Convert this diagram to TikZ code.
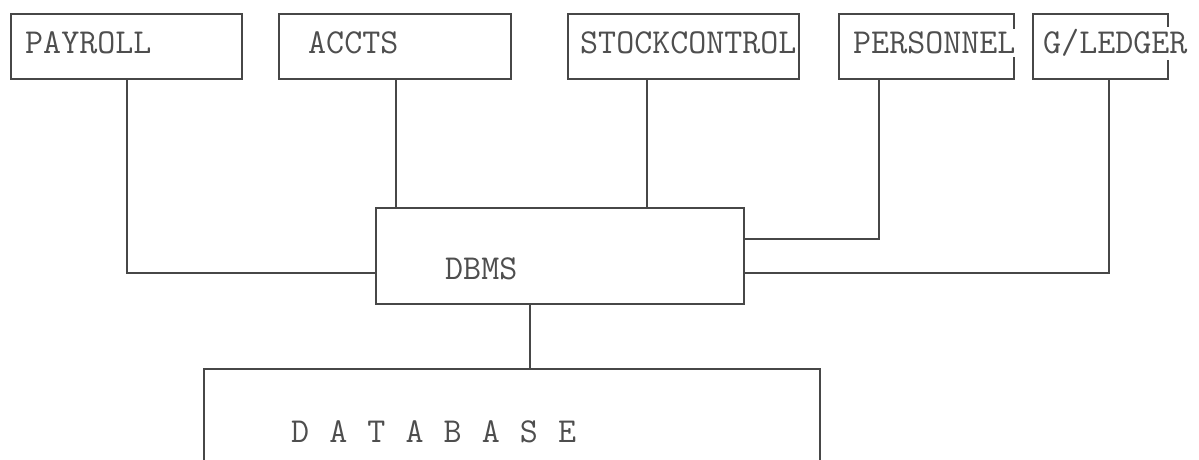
\documentclass[tikz,border=0pt]{standalone}
\usepackage{fontspec}
\usetikzlibrary{positioning}
\definecolor{ink}{HTML}{474747}
\definecolor{txt}{HTML}{4E4E4E}
\tikzset{
  box/.style={draw=ink, line width=2pt, rectangle, inner sep=0pt, anchor=north west},
  lbl/.style={anchor=base west, inner xsep=0pt, inner ysep=3pt, fill=white, text=txt,
              font=\ttfamily\fontsize{35pt}{40pt}\selectfont},
  conn/.style={draw=ink, line width=2pt}
}
\begin{document}
\begin{tikzpicture}[x=1pt,y=-1pt]
\useasboundingbox (0,0) rectangle (1199,460);
\clip (0,0) rectangle (1199,460);
\fill[white] (0,0) rectangle (1199,460);
% top boxes
\node[box, minimum width=231pt, minimum height=65pt] (pay) at (10,13) {};
\node[box, minimum width=232pt, minimum height=65pt] (acc) at (278,13) {};
\node[box, minimum width=231pt, minimum height=65pt] (stk) at (567,13) {};
\node[box, minimum width=175pt, minimum height=65pt] (per) at (838,13) {};
\node[box, minimum width=135pt, minimum height=65pt] (gl)  at (1032,13) {};
% DBMS and database
\node[box, minimum width=368pt, minimum height=96pt] (dbms) at (375,207) {};
\node[box, minimum width=616pt, minimum height=140pt] (db) at (203,368) {};
% labels
\node[lbl] (tpay) at (25,54) {PAYROLL};
\node[lbl] (tacc) at (308,54) {ACCTS};
\node[lbl] (tstk) at (580,54) {STOCKCONTROL};
\node[lbl] (tper) at (853,54) {PERSONNEL};
\node[lbl] (tgl)  at (1043,54) {G/LEDGER};
\node[lbl] (tdbms) at (445,279) {DBMS};
\node[lbl] (tdb) at (291,442) {D\hspace{20.1pt}A\hspace{20.1pt}T\hspace{20.1pt}A\hspace{20.1pt}B\hspace{20.1pt}A\hspace{20.1pt}S\hspace{20.1pt}E};
% connectors
\draw[conn] ([xshift=117pt]pay.south west) |- ([yshift=32pt]dbms.south west);
\draw[conn] ([xshift=118pt]acc.south west) coordinate (a1) -- (a1 |- dbms.north);
\draw[conn] ([xshift=80pt]stk.south west) coordinate (s1) -- (s1 |- dbms.north);
\draw[conn] ([xshift=41pt]per.south west) |- ([yshift=-32pt]dbms.north east);
\draw[conn] ([xshift=77pt]gl.south west) |- ([yshift=32pt]dbms.south east);
\draw[conn] ([xshift=155pt]dbms.south west) coordinate (d1) -- (d1 |- db.north);
\end{tikzpicture}
\end{document}
